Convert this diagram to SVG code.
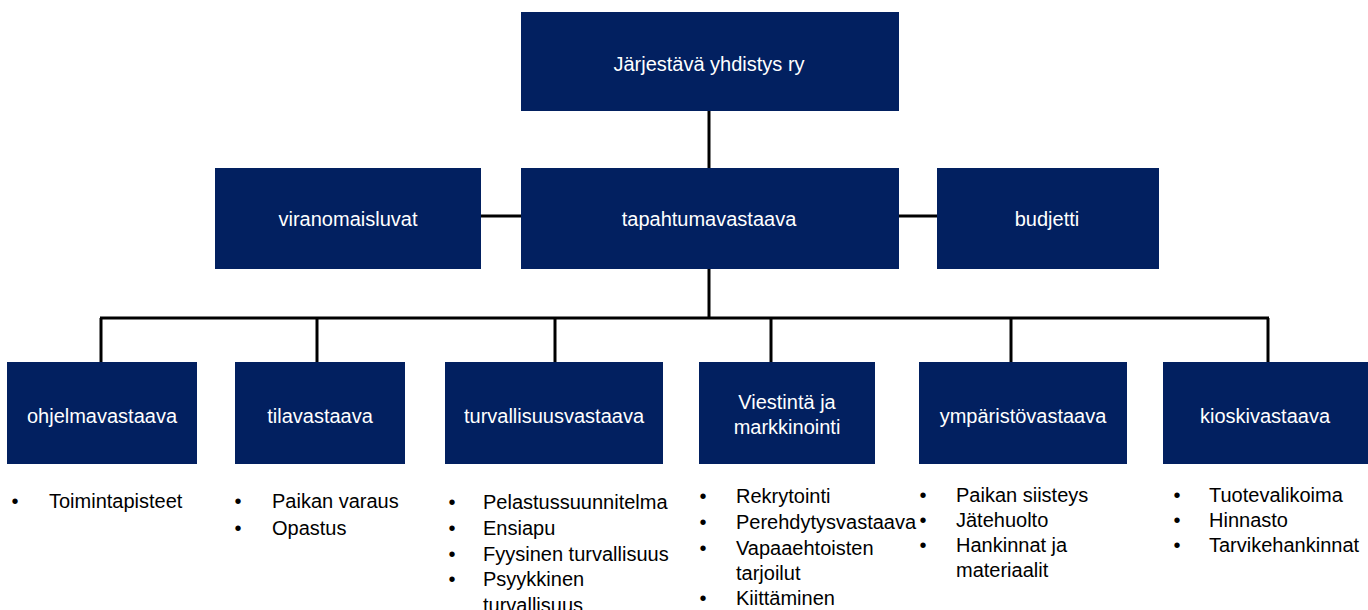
<svg xmlns="http://www.w3.org/2000/svg" width="1368" height="610" viewBox="0 0 1368 610">
<style>
.box{fill:#022060}
.lbl{font-family:"Liberation Sans",Arial,sans-serif;font-size:20px;fill:#ffffff;text-anchor:middle}
.lst{font-family:"Liberation Sans",Arial,sans-serif;font-size:20px;fill:#000000}
.bul{font-family:"Liberation Sans",Arial,sans-serif;font-size:20px;fill:#000000;text-anchor:middle}
.ln{stroke:#000000;stroke-width:3;fill:none}
</style>
<rect width="1368" height="610" fill="#ffffff"/>
<g id="connectors">
<line class="ln" x1="709" y1="111" x2="709" y2="168"/>
<line class="ln" x1="481" y1="216" x2="521" y2="216"/>
<line class="ln" x1="899" y1="216" x2="937" y2="216"/>
<line class="ln" x1="709" y1="269" x2="709" y2="318"/>
<line class="ln" x1="100" y1="318" x2="1269" y2="318"/>
<line class="ln" x1="101" y1="318" x2="101" y2="362"/>
<line class="ln" x1="317" y1="318" x2="317" y2="362"/>
<line class="ln" x1="555" y1="318" x2="555" y2="362"/>
<line class="ln" x1="771" y1="318" x2="771" y2="362"/>
<line class="ln" x1="1011" y1="318" x2="1011" y2="362"/>
<line class="ln" x1="1268" y1="318" x2="1268" y2="362"/>
</g>
<g id="n-yhdistys"><rect class="box" x="521" y="12" width="378" height="99"/><text class="lbl" x="709" y="71">Järjestävä yhdistys ry</text></g>
<g id="n-tapahtuma"><rect class="box" x="521" y="168" width="378" height="101"/><text class="lbl" x="709" y="226">tapahtumavastaava</text></g>
<g id="n-viranomais"><rect class="box" x="215" y="168" width="266" height="101"/><text class="lbl" x="348" y="226">viranomaisluvat</text></g>
<g id="n-budjetti"><rect class="box" x="937" y="168" width="222" height="101"/><text class="lbl" x="1047" y="226">budjetti</text></g>
<g id="n-ohjelma"><rect class="box" x="7" y="362" width="190" height="102"/><text class="lbl" x="102" y="423">ohjelmavastaava</text></g>
<g id="n-tila"><rect class="box" x="235" y="362" width="170" height="102"/><text class="lbl" x="320" y="423">tilavastaava</text></g>
<g id="n-turva"><rect class="box" x="445" y="362" width="218" height="102"/><text class="lbl" x="554" y="423">turvallisuusvastaava</text></g>
<g id="n-viestinta"><rect class="box" x="699" y="362" width="176" height="102"/><text class="lbl" x="787" y="409">Viestintä ja</text><text class="lbl" x="787" y="434">markkinointi</text></g>
<g id="n-ymparisto"><rect class="box" x="919" y="362" width="208" height="102"/><text class="lbl" x="1023" y="423">ympäristövastaava</text></g>
<g id="n-kioski"><rect class="box" x="1163" y="362" width="205" height="102"/><text class="lbl" x="1265" y="423">kioskivastaava</text></g>
<g id="list-ohjelma">
<text class="bul" x="15" y="508">•</text><text class="lst" x="49" y="508">Toimintapisteet</text>
</g>
<g id="list-tila">
<text class="bul" x="238" y="508">•</text><text class="lst" x="272" y="508">Paikan varaus</text>
<text class="bul" x="238" y="535">•</text><text class="lst" x="272" y="535">Opastus</text>
</g>
<g id="list-turva">
<text class="bul" x="452" y="509">•</text><text class="lst" x="483" y="509">Pelastussuunnitelma</text>
<text class="bul" x="452" y="535">•</text><text class="lst" x="483" y="535">Ensiapu</text>
<text class="bul" x="452" y="561">•</text><text class="lst" x="483" y="561">Fyysinen turvallisuus</text>
<text class="bul" x="452" y="586">•</text><text class="lst" x="483" y="586">Psyykkinen</text>
<text class="lst" x="483" y="612">turvallisuus</text>
</g>
<g id="list-viestinta">
<text class="bul" x="703" y="503">•</text><text class="lst" x="736" y="503">Rekrytointi</text>
<text class="bul" x="703" y="529">•</text><text class="lst" x="736" y="529">Perehdytysvastaava</text>
<text class="bul" x="703" y="555">•</text><text class="lst" x="736" y="555">Vapaaehtoisten</text>
<text class="lst" x="736" y="580">tarjoilut</text>
<text class="bul" x="703" y="605">•</text><text class="lst" x="736" y="605">Kiittäminen</text>
</g>
<g id="list-ymparisto">
<text class="bul" x="923" y="502">•</text><text class="lst" x="956" y="502">Paikan siisteys</text>
<text class="bul" x="923" y="527">•</text><text class="lst" x="956" y="527">Jätehuolto</text>
<text class="bul" x="923" y="552">•</text><text class="lst" x="956" y="552">Hankinnat ja</text>
<text class="lst" x="956" y="577">materiaalit</text>
</g>
<g id="list-kioski">
<text class="bul" x="1177" y="502">•</text><text class="lst" x="1209" y="502">Tuotevalikoima</text>
<text class="bul" x="1177" y="527">•</text><text class="lst" x="1209" y="527">Hinnasto</text>
<text class="bul" x="1177" y="552">•</text><text class="lst" x="1209" y="552">Tarvikehankinnat</text>
</g>
</svg>
